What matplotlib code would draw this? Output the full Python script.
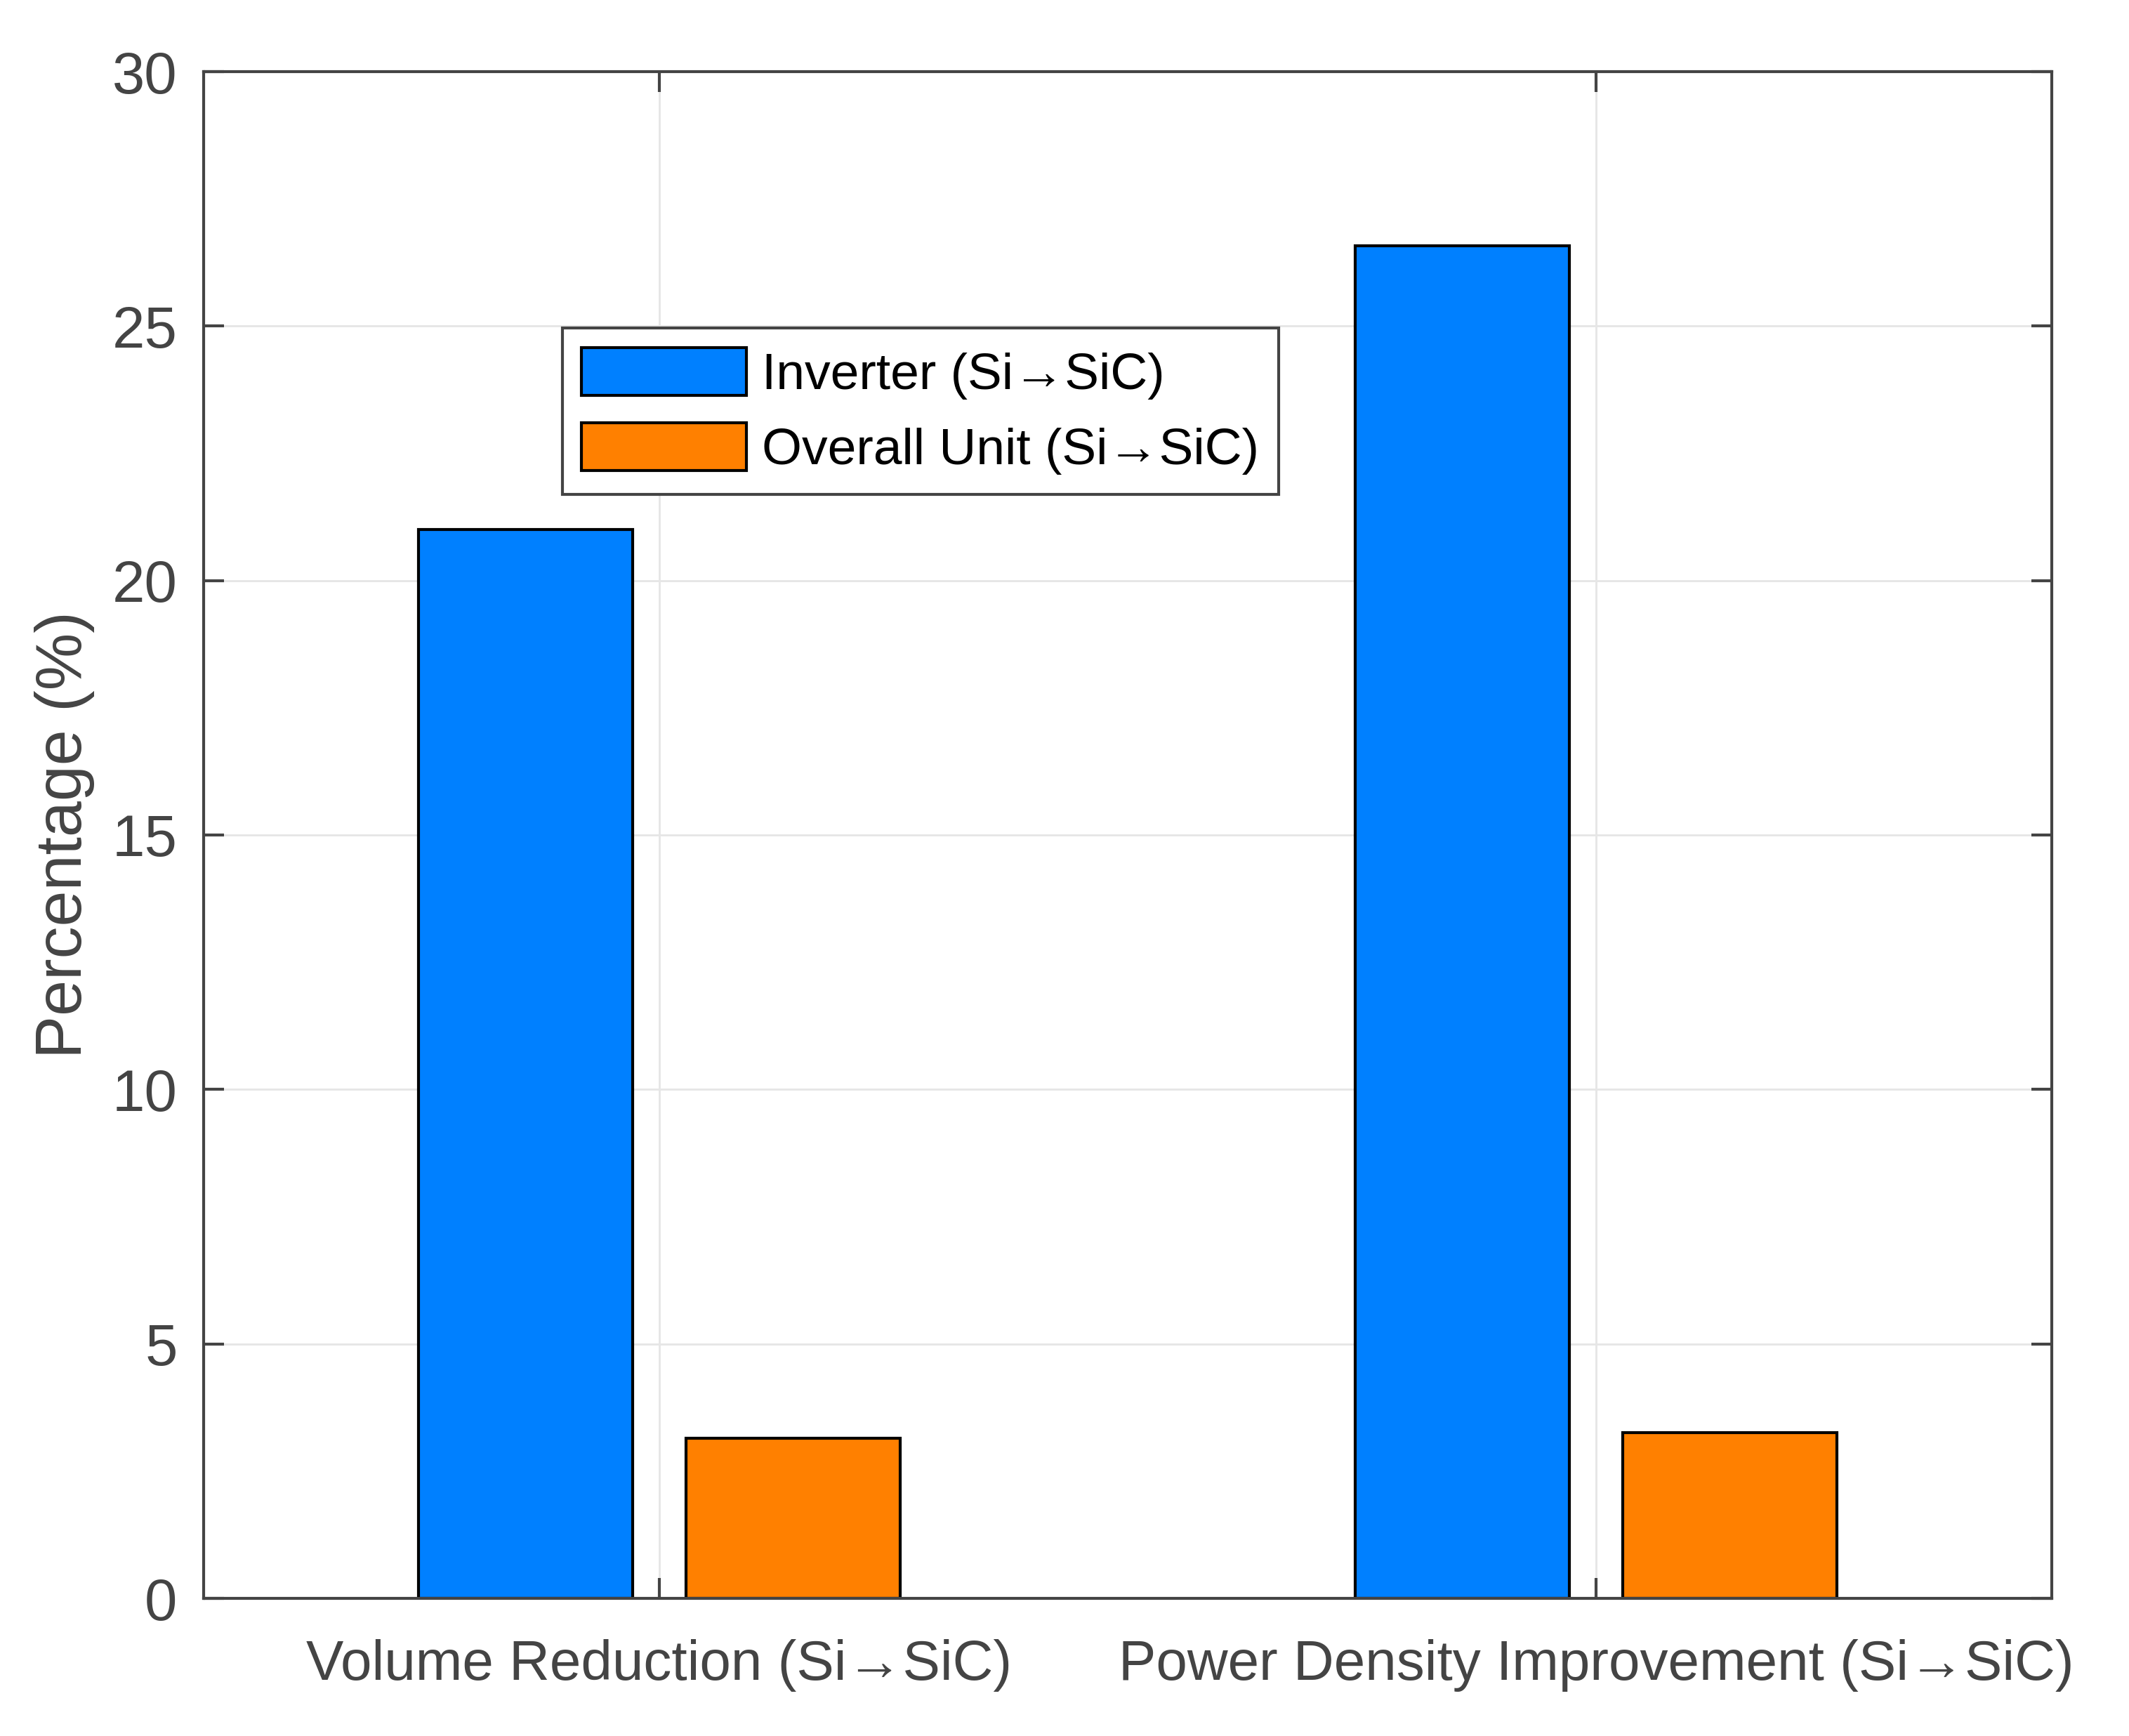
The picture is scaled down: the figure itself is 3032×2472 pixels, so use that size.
import numpy as np
import matplotlib
matplotlib.use('Agg')
import matplotlib.pyplot as plt

# Data
categories = ['Volume Reduction (Si→SiC)', 'Power Density Improvement (Si→SiC)']
series_names = ['Inverter (Si→SiC)', 'Overall Unit (Si→SiC)']
inverter = [21.0, 26.58]
overall_unit = [3.15, 3.25]
yticks = [0, 5, 10, 15, 20, 25, 30]

colors = ['#0080FF', '#FF8000']
text_gray = '#444444'

plt.rcParams['font.family'] = ['Liberation Sans', 'DejaVu Sans']

fig = plt.figure(figsize=(3032 / 300, 2472 / 300), dpi=300)
ax = fig.add_axes([290 / 3032, 1 - 2276 / 2472, (2922 - 290) / 3032, (2276 - 102) / 2472])

x = np.arange(1, len(categories) + 1)
group_width = 2 / 3.5
bar_width = group_width / 2 * 0.8
offset = group_width / 4

ax.bar(x - offset, inverter, bar_width, color=colors[0], edgecolor='black',
       linewidth=1.0, label=series_names[0])
ax.bar(x + offset, overall_unit, bar_width, color=colors[1], edgecolor='black',
       linewidth=1.0, label=series_names[1])

ax.set_xlim(0.5135, 2.4865)
ax.set_ylim(0, 30)
ax.set_xticks(x)
ax.set_xticklabels(categories)
ax.set_yticks(yticks)

ax.set_axisbelow(True)
ax.grid(True, color='#e6e6e6', linewidth=0.7)

for s in ax.spines.values():
    s.set_color(text_gray)
    s.set_linewidth(1.0)
ax.tick_params(direction='in', length=7, width=1.0, color=text_gray,
               labelcolor=text_gray, labelsize=20, top=True, right=True)
ax.tick_params(axis='x', pad=14, labelsize=19.2)
ax.tick_params(axis='y', pad=9)

ax.set_ylabel('Percentage (%)', fontsize=22, color=text_gray, labelpad=6)

leg = ax.legend(loc='upper left', bbox_to_anchor=(0.194, 0.832), borderaxespad=0,
                fontsize=17.6, fancybox=False, framealpha=1, edgecolor=text_gray,
                handlelength=3.2, handleheight=1.05, handletextpad=0.3,
                labelspacing=0.45, borderpad=0.38)
leg.get_frame().set_linewidth(1.0)

fig.savefig('out.png', dpi=300)
